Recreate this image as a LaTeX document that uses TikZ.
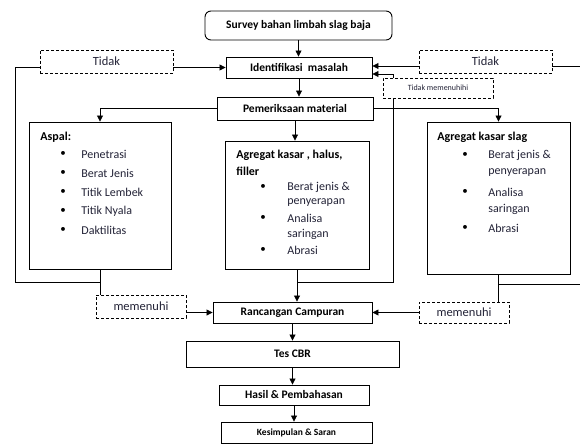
\documentclass[tikz,border=0pt]{standalone}
\usepackage{fontspec}
\setmainfont{Carlito}
\usetikzlibrary{positioning,arrows.meta}
\definecolor{teks}{RGB}{35,35,55}

\tikzset{
  kotak/.style={draw, line width=0.9pt, fill=white, inner sep=0pt, font=\bfseries\fontsize{11.5}{13}\selectfont},
  putus/.style={draw, dash pattern=on 3pt off 2pt, line width=0.8pt, fill=white, inner sep=0pt, text=teks, font=\fontsize{12.5}{14}\selectfont},
  judul/.style={anchor=west, inner sep=0pt, font=\bfseries\fontsize{12}{14}\selectfont},
  isi/.style={anchor=west, inner sep=0pt, text=teks, font=\fontsize{12}{14}\selectfont},
  titik/.style={inner sep=0pt, font=\fontsize{11}{13}\selectfont},
}

\begin{document}
\begin{tikzpicture}[x=1pt,y=-1pt,
            >={Triangle[length=6pt,width=6pt]},
            line width=0.8pt,
        ]
        \useasboundingbox (0,0) rectangle (580,444);

        % kotak utama
        \node[kotak, rounded corners=6pt, minimum width=187pt, minimum height=29pt] (survey) at (298.5,25.5) {Survey bahan limbah slag baja};
        \node[kotak, minimum width=146pt, minimum height=21pt] (ident) at (299,67.5) {Identifikasi\ \ masalah};
        \node[kotak, minimum width=156pt, minimum height=23pt] (periksa) at (295,108.5) {Pemeriksaan material};
        \node[kotak, minimum width=142pt, minimum height=147pt] (aspal) at (100,195.5) {};
        \node[kotak, minimum width=144pt, minimum height=128pt] (agregat) at (297,205) {};
        \node[kotak, minimum width=143pt, minimum height=152pt] (slag) at (498.5,198) {};
        \node[kotak, minimum width=159pt, minimum height=21pt] (rancang) at (292.5,312.5) {Rancangan Campuran};
        \node[kotak, minimum width=213pt, minimum height=26pt] (cbr) at (292.5,354) {Tes CBR};
        \node[kotak, minimum width=150pt, minimum height=20pt] (hasil) at (294,395) {Hasil \& Pembahasan};
        \node[kotak, minimum width=151pt, minimum height=21pt, font=\bfseries\fontsize{9.5}{11}\selectfont] (simpul) at (296.5,432.5) {Kesimpulan \& Saran};

        % kotak putus-putus
        \node[putus, minimum width=133pt, minimum height=23pt] (tidakkiri) at (106.5,61.5) {Tidak};
        \node[putus, minimum width=133pt, minimum height=23pt] (tidakkanan) at (485.5,61.5) {Tidak};
        \node[putus, minimum width=90pt, minimum height=23pt] (penuhkiri) at (141,306.5) {memenuhi};
        \node[putus, minimum width=90pt, minimum height=21pt] (penuhkanan) at (464,312.5) {memenuhi};

        % isi kotak aspal
        \node[judul] (judulaspal) at (40,137) {Aspal:};
        \foreach \teks [count=\i] in {Penetrasi, Berat Jenis, Titik Lembek, Titik Nyala, Daktilitas} {
            \node[titik] (titikaspal-\i) at (63,{135+19*\i}) {\textbullet};
            \node[isi] (aspal-\i) at (81,{135+19*\i}) {\teks};
        }

        % isi kotak agregat
        \node[judul] (judulagregat) at (236,155) {Agregat kasar , halus,};
        \node[judul] (judulfiller) at (236,171) {filler};
        \foreach \y/\teks [count=\i] in {187/Berat jenis \&, 203/penyerapan, 218/Analisa, 234/saringan, 250/Abrasi}
            \node[isi] (agregat-\i) at (287,\y) {\teks};
        \foreach \y [count=\i] in {187,218,250}
            \node[titik] (titikagregat-\i) at (263,\y) {\textbullet};

        % isi kotak slag
        \node[judul] (judulslag) at (437,137) {Agregat kasar slag};
        \foreach \y/\teks [count=\i] in {155/Berat jenis \&, 173/penyerapan, 192/Analisa, 209/saringan, 228/Abrasi}
            \node[isi] (slag-\i) at (488,\y) {\teks};
        \foreach \y [count=\i] in {155,192,228}
            \node[titik] (titikslag-\i) at (465,\y) {\textbullet};

        % titik bantu
        \coordinate (kiri) at (15,282);
        \coordinate (kanan) at (393,282);
        \coordinate (tepiatas) at (580,66);
        \coordinate (tepibawah) at (580,284);
        \coordinate (masukatas) at ([yshift=1.5pt]ident.east);
        \coordinate (masukbawah) at ([yshift=-6.5pt]ident.east);

        % garis
        \draw[->] (survey.south) -- (survey.south |- ident.north);
        \draw[->] (ident.south) -- (ident.south |- periksa.north);
        \draw[->] (periksa.south) -- (periksa.south |- agregat.north);
        \draw[->] (periksa.west) -| (aspal.north);
        \draw[->] (periksa.east) -| (slag.north);
        \draw (aspal.south) -- (aspal.south |- penuhkiri.north);
        \draw (aspal.south |- kiri) -- (kiri) |- (tidakkiri.west |- ident.west);
        \draw[->] (tidakkiri.east |- ident.west) -- (ident.west);
        \draw[->] (penuhkiri.east |- rancang.west) -- (rancang.west);
        \draw[->] (agregat.south) -- (agregat.south |- rancang.north);
        \draw[->] (agregat.south |- kanan) -- (kanan) |- (masukbawah);
        \draw[->] (tidakkanan.west |- masukatas) -- (masukatas);
        \draw (tidakkanan.east |- tepiatas) -- (tepiatas);
        \draw (slag.south) -- (slag.south |- penuhkanan.north);
        \draw (slag.south |- tepibawah) -- (tepibawah);
        \draw[->] (penuhkanan.west) -- (rancang.east);
        \draw[->] (rancang.south) -- (rancang.south |- cbr.north);
        \draw[->] (cbr.south) -- (cbr.south |- hasil.north);
        \draw[->] (hasil.south) -- (hasil.south |- simpul.north);

        % di atas garis kanan
        \node[putus, minimum width=110pt, minimum height=20pt, font=\fontsize{8}{10}\selectfont] (tidakpenuh) at (438,88) {Tidak memenuhihi};
    \end{tikzpicture}
\end{document}
